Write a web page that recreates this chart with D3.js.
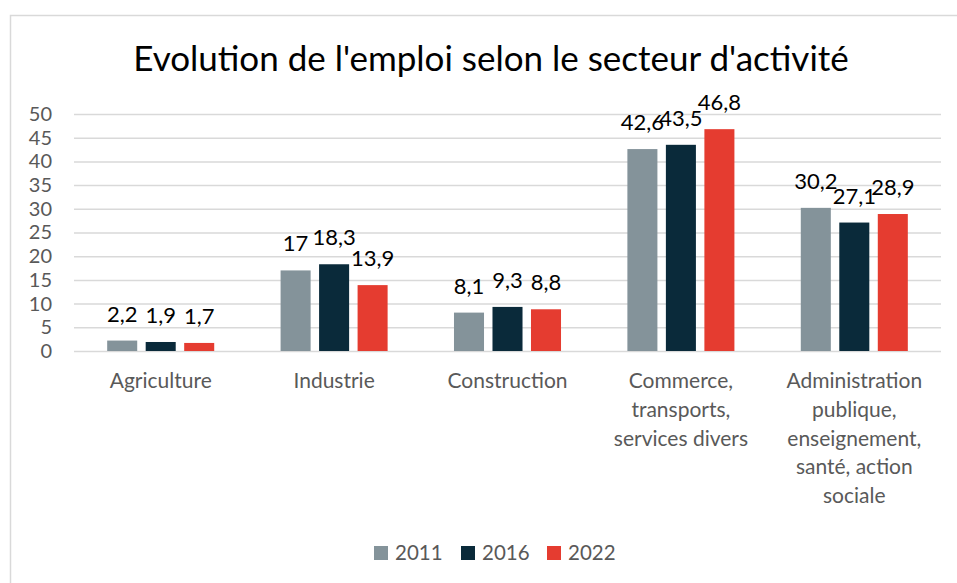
<!DOCTYPE html>
<html>
<head>
<meta charset="utf-8">
<script src="https://cdn.jsdelivr.net/npm/d3@7"></script>
<style>
  body { margin: 0; background: #fff; }
  svg { display: block; font-family: Lato, "Open Sans", sans-serif; }
</style>
</head>
<body>
<svg width="957" height="583"></svg>
<script>
const title = "Evolution de l'emploi selon le secteur d'activité"
const categories = [
    "Agriculture",
    "Industrie",
    "Construction",
    "Commerce,\ntransports,\nservices divers",
    "Administration\npublique,\nenseignement,\nsanté, action\nsociale"
]
const years = ["2011", "2016", "2022"]
const values2011 = [2.2, 17, 8.1, 42.6, 30.2]
const values2016 = [1.9, 18.3, 9.3, 43.5, 27.1]
const values2022 = [1.7, 13.9, 8.8, 46.8, 28.9]
const yTicks = [0, 5, 10, 15, 20, 25, 30, 35, 40, 45, 50]
const colors = ["#84939a", "#0a2a3a", "#e53c30"]

function drawChart() {
    const svg = d3.select("svg")
    const left = 74, right = 941, top = 114, bottom = 351
    const series = [values2011, values2016, values2022]

    // chart frame
    svg.append("rect")
        .attr("x", 10.5).attr("y", 15.5)
        .attr("width", 980).attr("height", 620)
        .attr("fill", "none")
        .attr("stroke", "#d9d9d9")
        .attr("stroke-width", 1.5)

    svg.append("text")
        .attr("x", 491).attr("y", 71)
        .attr("text-anchor", "middle")
        .attr("font-size", 35)
        .attr("fill", "#000")
        .text(title)

    const y = d3.scaleLinear().domain([0, 50]).range([bottom, top])
    const x0 = d3.scaleBand().domain(categories).range([left, right])
    const x1 = d3.scaleBand().domain(years).range([-57.75, 57.75])
        .paddingInner(0.22).paddingOuter(0.11)

    const yAxis = svg.append("g")
        .attr("transform", `translate(${left},0)`)
        .call(d3.axisLeft(y).tickValues(yTicks)
            .tickSizeInner(-(right - left)).tickSizeOuter(0).tickPadding(22))
    yAxis.select(".domain").remove()
    yAxis.selectAll(".tick line").attr("stroke", "#d9d9d9").attr("stroke-width", 1.5)
    yAxis.selectAll(".tick text")
        .attr("font-size", 20)
        .attr("font-family", "Lato, sans-serif")
        .attr("fill", "#595959")

    const groups = svg.selectAll("g.cat")
        .data(categories)
        .enter()
        .append("g")
        .attr("class", "cat")
        .attr("transform", d => `translate(${x0(d) + x0.bandwidth() / 2},0)`)

    groups.selectAll("rect")
        .data((d, i) => years.map((yr, j) => ({ yr, v: series[j][i], c: colors[j] })))
        .enter()
        .append("rect")
        .attr("x", d => x1(d.yr))
        .attr("width", x1.bandwidth())
        .attr("y", d => y(d.v))
        .attr("height", d => bottom - y(d.v))
        .attr("fill", d => d.c)

    groups.selectAll("text.val")
        .data((d, i) => years.map((yr, j) => ({ yr, v: series[j][i] })))
        .enter()
        .append("text")
        .attr("class", "val")
        .attr("x", d => x1(d.yr) + x1.bandwidth() / 2)
        .attr("y", d => y(d.v) - 19)
        .attr("text-anchor", "middle")
        .attr("font-size", 22)
        .attr("fill", "#000")
        .text(d => String(d.v).replace(".", ","))

    groups.append("text")
        .attr("text-anchor", "middle")
        .attr("font-size", 21)
        .attr("fill", "#595959")
        .selectAll("tspan")
        .data(d => d.split("\n"))
        .enter()
        .append("tspan")
        .attr("x", 0)
        .attr("y", (d, i) => 388 + i * 28.75)
        .text(d => d)

    const legendX = [374, 461, 547]
    const legend = svg.selectAll("g.legend")
        .data(years)
        .enter()
        .append("g")
        .attr("class", "legend")
        .attr("transform", (d, i) => `translate(${legendX[i]},546)`)
    legend.append("rect")
        .attr("width", 14).attr("height", 14)
        .attr("fill", (d, i) => colors[i])
    legend.append("text")
        .attr("x", 21).attr("y", 13.5)
        .attr("font-size", 20.5)
        .attr("fill", "#595959")
        .text(d => d)
}
drawChart()
</script>
</body>
</html>
